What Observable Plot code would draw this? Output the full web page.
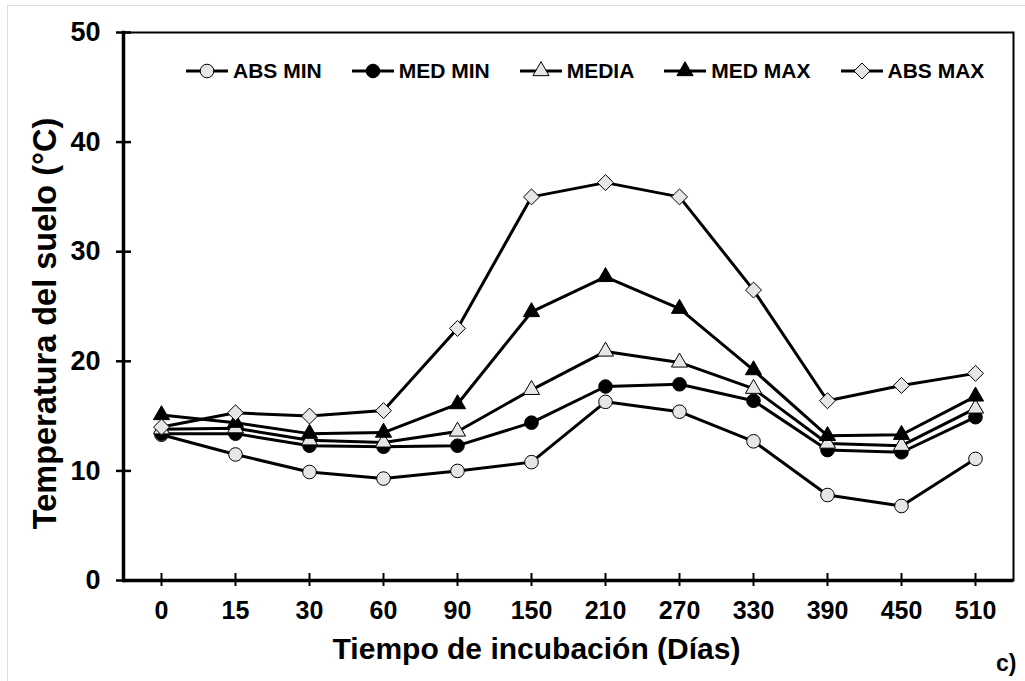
<!DOCTYPE html>
<html>
<head>
<meta charset="utf-8">
<script src="https://cdn.jsdelivr.net/npm/d3@7"></script>
<script src="https://cdn.jsdelivr.net/npm/@observablehq/plot@0.6"></script>
<style>
  body { margin: 0; background: #fff; font-family: "Liberation Sans", Arial, sans-serif; }
  #wrap { position: relative; width: 1025px; height: 681px; overflow: hidden; }
  #wrap::before { content: ""; position: absolute; left: 7px; top: 5px; right: -2px; bottom: -2px;
    border-left: 1.5px solid #dddddd; border-top: 1.5px solid #dddddd; pointer-events: none; }
  #legend { position: absolute; left: 186px; top: 59px; display: flex; align-items: center; gap: 30px;
    font-weight: bold; font-size: 21px; color: #000; white-space: nowrap; }
  .item { display: flex; align-items: center; gap: 5px; }
  .item svg { display: block; }
  #tag { position: absolute; left: 996px; top: 650px; font-weight: bold; font-size: 23px; }
</style>
</head>
<body>
<div id="wrap">
  <div id="chart"></div>
  <div id="legend"></div>
  <div id="tag">c)</div>
</div>
<script>
// Incubation time (days) and soil temperature series (°C)
const days = ["0", "15", "30", "60", "90", "150", "210", "270", "330", "390", "450", "510"];
const absMin = [13.3, 11.5, 9.9, 9.3, 10.0, 10.8, 16.3, 15.4, 12.7, 7.8, 6.8, 11.1];
const medMin = [13.4, 13.4, 12.3, 12.2, 12.3, 14.4, 17.7, 17.9, 16.4, 11.9, 11.7, 14.9];
const media  = [13.8, 13.9, 12.8, 12.6, 13.6, 17.4, 20.9, 19.9, 17.5, 12.5, 12.3, 15.7];
const medMax = [15.1, 14.4, 13.4, 13.5, 16.1, 24.5, 27.7, 24.8, 19.2, 13.2, 13.3, 16.8];
const absMax = [14.0, 15.3, 15.0, 15.5, 23.0, 35.0, 36.3, 35.0, 26.5, 16.4, 17.8, 18.9];
const yTicks = [0, 10, 20, 30, 40, 50];

const GREY = "#e6e6e6";
const series = [
  {name: "ABS MIN", values: absMin, symbol: "circle",   fill: GREY,    r: 6.8},
  {name: "MED MIN", values: medMin, symbol: "circle",   fill: "black", r: 6.8},
  {name: "MEDIA",   values: media,  symbol: "triangle", fill: GREY,    r: 6},
  {name: "MED MAX", values: medMax, symbol: "triangle", fill: "black", r: 6},
  {name: "ABS MAX", values: absMax, symbol: "diamond2", fill: GREY,    r: 7.2}
];

const marks = [];
for (const s of series) {
  const rows = days.map((d, i) => ({day: d, value: s.values[i]}));
  marks.push(Plot.line(rows, {x: "day", y: "value", stroke: "black", strokeWidth: 3}));
  marks.push(Plot.dot(rows, {x: "day", y: "value", symbol: () => s.symbol, fill: s.fill,
    stroke: "black", strokeWidth: 1, r: s.r}));
}

const chart = Plot.plot({
  width: 1025,
  height: 681,
  marginLeft: 123,
  marginRight: 12,
  marginTop: 32,
  marginBottom: 101,
  style: {fontFamily: "'Liberation Sans', Arial, sans-serif", color: "black", background: "transparent"},
  x: {type: "point", domain: days, padding: 0.5},
  y: {domain: [0, 50]},
  symbol: {type: "identity"},
  marks: [
    Plot.frame({stroke: "black", strokeWidth: 2}),
    Plot.ruleY([0], {stroke: "black", strokeWidth: 3.5}),
    Plot.frame({anchor: "left", stroke: "black", strokeWidth: 3.5}),
    // ticks crossing the axes
    Plot.axisY(yTicks, {tickSize: 15, dx: 8, strokeWidth: 2.5, text: null, label: null}),
    Plot.axisY(yTicks, {tickSize: 0, tickPadding: 23, fontSize: 27, fontWeight: "bold", label: null}),
    Plot.axisX(days, {tickSize: 13, dy: -7, strokeWidth: 2, text: null, label: null}),
    Plot.axisX(days, {tickSize: 0, tickPadding: 21, fontSize: 25, fontWeight: "bold", label: null}),
    Plot.text(["Tiempo de incubación (Días)"], {frameAnchor: "bottom", dx: -32, dy: 78, fontSize: 30,
      fontWeight: "bold", fill: "black"}),
    Plot.text(["Temperatura del suelo (°C)"], {frameAnchor: "left", dx: -78, dy: 17, rotate: -90,
      textAnchor: "middle", fontSize: 32.5, fontWeight: "bold", fill: "black"}),
    ...marks
  ]
});
document.getElementById("chart").append(chart);

// Legend: line segment with marker, then the series name
const legend = d3.select("#legend");
const symbolPaths = {circle: d3.symbolCircle, triangle: d3.symbolTriangle, diamond2: d3.symbolDiamond2};
for (const s of series) {
  const item = legend.append("div").attr("class", "item");
  const svg = item.append("svg").attr("width", 42).attr("height", 22);
  svg.append("line").attr("x1", 0).attr("x2", 42).attr("y1", 11).attr("y2", 11)
    .attr("stroke", "black").attr("stroke-width", 3);
  svg.append("path")
    .attr("d", d3.symbol(symbolPaths[s.symbol], Math.PI * s.r * s.r)())
    .attr("transform", "translate(21,11)")
    .attr("fill", s.fill).attr("stroke", "black").attr("stroke-width", 1);
  item.append("span").text(s.name);
}
</script>
</body>
</html>
